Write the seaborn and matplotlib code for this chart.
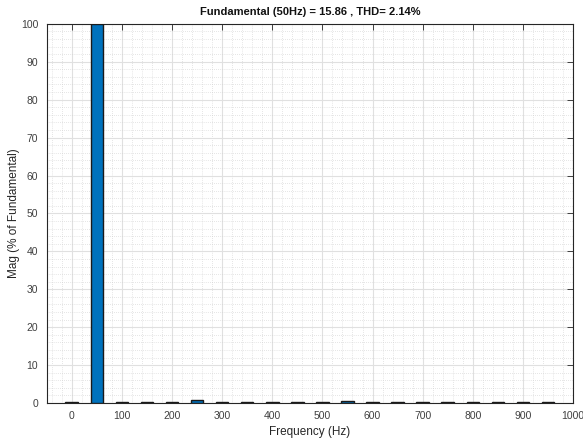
import numpy as np
import pandas as pd
import matplotlib
matplotlib.use('Agg')
import matplotlib.pyplot as plt
import matplotlib.ticker as ticker
import seaborn as sns

# harmonic spectrum
freqs = [0, 50, 100, 150, 200, 250, 300, 350, 400, 450,
         500, 550, 600, 650, 700, 750, 800, 850, 900, 950]
mags = [0.3, 100, 0.3, 0.25, 0.3, 0.85, 0.3, 0.25, 0.3, 0.25,
        0.3, 0.6, 0.3, 0.25, 0.3, 0.25, 0.3, 0.25, 0.3, 0.25]
title = 'Fundamental (50Hz) = 15.86 , THD= 2.14%'

sns.set_style('white')
plt.rcParams['font.family'] = ['Liberation Sans', 'DejaVu Sans']

df = pd.DataFrame({'freq': freqs, 'mag': mags})

fig = plt.figure(figsize=(5.83, 4.41), dpi=100)
ax = fig.add_axes([0.080, 0.086, 0.903, 0.860])

sns.barplot(data=df, x='freq', y='mag', native_scale=True, width=0.5,
            color='#0072BD', saturation=1, edgecolor='#1a1a1a',
            linewidth=1.0, ax=ax, zorder=3)

ax.set_xlim(-50, 1000)
ax.set_ylim(0, 100)
ax.xaxis.set_major_locator(ticker.MultipleLocator(100))
ax.xaxis.set_minor_locator(ticker.MultipleLocator(20))
ax.yaxis.set_major_locator(ticker.MultipleLocator(10))
ax.yaxis.set_minor_locator(ticker.MultipleLocator(2))

ax.grid(which='major', color='#e0e0e0', linewidth=0.8, linestyle='-', zorder=0)
ax.grid(which='minor', color='#cccccc', linewidth=0.5, linestyle=(0, (1, 2)), zorder=0)
ax.set_axisbelow(True)

ax.tick_params(which='major', direction='in', length=4, width=0.6, color='#262626',
               labelsize=7.5, labelcolor='#404040', top=True, right=True, pad=6)
ax.tick_params(which='minor', length=0)
for s in ax.spines.values():
    s.set_color('#262626')
    s.set_linewidth(0.8)

ax.set_xlabel('Frequency (Hz)', fontsize=8.5, color='#262626', labelpad=3)
ax.set_ylabel('Mag (% of Fundamental)', fontsize=8.5, color='#262626', labelpad=1)
ax.set_title(title, fontsize=8, fontweight='bold', color='#111111', pad=6)

fig.savefig('out.png', dpi=100)
